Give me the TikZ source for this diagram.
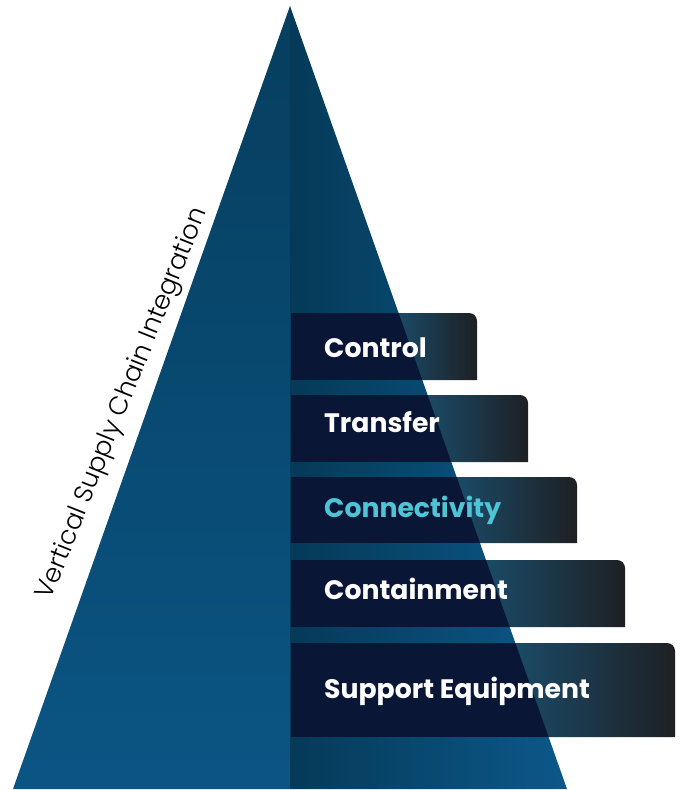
\documentclass[tikz,border=0pt]{standalone}
\usepackage{fontspec}
\usepackage{tikz}
\usetikzlibrary{positioning}
\setmainfont{Poppins}
\newfontfamily\poplight{Poppins Light}
\definecolor{pyrtop}{RGB}{6, 62, 94}
\definecolor{pyrbottom}{RGB}{11, 85, 132}
\definecolor{pyrshade}{RGB}{5, 58, 88}
\definecolor{pyrlight}{RGB}{12, 88, 138}
\definecolor{barnavy}{RGB}{10, 22, 54}
\definecolor{barteal}{RGB}{26, 74, 102}
\definecolor{bardark}{RGB}{30, 32, 36}
\definecolor{labelcyan}{RGB}{78, 196, 212}

\tikzset{
    barlabel/.style={anchor=base west, inner sep=0pt, font=\fontsize{26.7}{32}\selectfont\bfseries},
    sidelabel/.style={inner sep=0pt, font=\poplight\fontsize{25.8}{31}\selectfont, text=black}
}

\begin{document}
\begin{tikzpicture}[x=1pt,y=-1pt]
    \useasboundingbox (0,0) rectangle (681,790);
    \coordinate (apex) at (290,6);
    \coordinate (baseL) at (13,789);
    \coordinate (baseR) at (567,789);
    \coordinate (baseM) at (290,789);
    % two halves of the pyramid
    \shade[top color=pyrtop, bottom color=pyrbottom] (apex) -- (baseL) -- (baseM) -- cycle;
    \shade[left color=pyrshade, right color=pyrlight] (apex) -- (baseM) -- (baseR) -- cycle;
    % level bars
    \foreach \t/\b/\r in {313/380/477, 395/462/528, 477/543/577, 560/627/625, 643/737/675} {
        \pgfmathsetmacro\xe{290+(\t-6)/783*277}
        \shade[left color=barteal, right color=bardark]
            (\xe,\b) -- (\xe,\t) -- (\r-8,\t) arc[start angle=-90, end angle=0, radius=8] -- (\r,\b) -- cycle;
        \begin{scope}
            \clip (apex) -- (baseL) -- (baseR) -- cycle;
            \fill[barnavy] (291,\t) rectangle (\r,\b);
        \end{scope}
    }
    \node[barlabel, text=white] (control) at (324,357) {Control};
    \node[barlabel, text=white] (transfer) at (324,432) {Transfer};
    \node[barlabel, text=labelcyan] (connectivity) at (324,517) {Connectivity};
    \node[barlabel, text=white] (containment) at (324,599) {Containment};
    \node[barlabel, text=white] (support) at (324,698) {Support Equipment};
    \node[sidelabel, rotate=68.2] (vsci) at (123,404) {Vertical Supply Chain Integration};
\end{tikzpicture}
\end{document}
